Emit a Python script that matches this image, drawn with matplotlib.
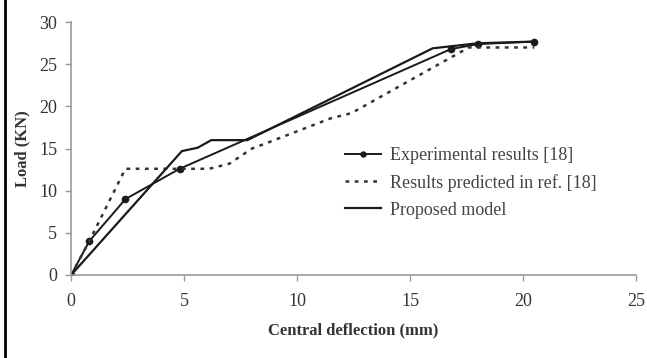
import matplotlib
matplotlib.use('Agg')
import matplotlib.pyplot as plt
from matplotlib.lines import Line2D

# experimental results [18]
exp_x = [0, 0.8, 2.4, 4.8, 16.8, 18.0, 20.5]
exp_y = [0, 4.0, 9.0, 12.6, 26.8, 27.4, 27.7]

# results predicted in ref. [18]
pred_x = [0, 0.8, 2.4, 6.1, 7.0, 8.0, 8.6, 11.5, 12.4, 17.6, 20.5]
pred_y = [0, 4.0, 12.6, 12.6, 13.2, 15.0, 15.6, 18.6, 19.2, 27.0, 27.0]

# proposed model
prop_x = [0, 4.9, 5.6, 6.2, 7.8, 16.0, 18.0, 20.5]
prop_y = [0, 14.7, 15.1, 16.0, 16.0, 26.9, 27.5, 27.7]

plt.rcParams['font.family'] = ['Liberation Serif', 'DejaVu Serif']

fig = plt.figure(figsize=(6.47, 3.58), dpi=100, facecolor='white')
ax = fig.add_axes([0.110, 0.232, 0.873, 0.706])

col = '#1a1a1a'
ax.plot(exp_x, exp_y, '-', color=col, lw=1.4, marker='o', ms=4.5,
        label='Experimental results [18]')
ax.plot(pred_x, pred_y, color='#333333', lw=1.8, dashes=(1.5, 2.2),
        label='Results predicted in ref. [18]')
ax.plot(prop_x, prop_y, '-', color=col, lw=1.6, label='Proposed model')

ax.set_xlim(0, 25)
ax.set_ylim(0, 30)
ax.set_xticks([0, 5, 10, 15, 20, 25])
ax.set_yticks([0, 5, 10, 15, 20, 25, 30])
for s in ['top', 'right']:
    ax.spines[s].set_visible(False)
for s in ['left', 'bottom']:
    ax.spines[s].set_color('#999999')
    ax.spines[s].set_linewidth(1.2)
ax.tick_params(colors='#999999', labelcolor='#333333', labelsize=13,
               length=4, width=1, direction='out')
ax.tick_params(axis='x', pad=9)
ax.tick_params(axis='y', pad=6)
ax.set_xlabel('Central deflection (mm)', fontsize=12, fontweight='bold',
              color='#333333', labelpad=9)
ax.set_ylabel('Load (KN)', fontsize=12, fontweight='bold',
              color='#333333', labelpad=6)

leg = ax.legend(loc='upper left', bbox_to_anchor=(0.508, 0.635),
                bbox_transform=fig.transFigure, frameon=False,
                fontsize=13, handlelength=2.0, labelspacing=0.55,
                handletextpad=0.5, markerscale=0.8)
for t in leg.get_texts():
    t.set_color('#444444')

# left border line of the scanned figure
fig.add_artist(Line2D([0.008, 0.008], [0.0, 1.0], color='black', lw=2,
                      transform=fig.transFigure))

fig.savefig('out.png', dpi=100, facecolor='white')
